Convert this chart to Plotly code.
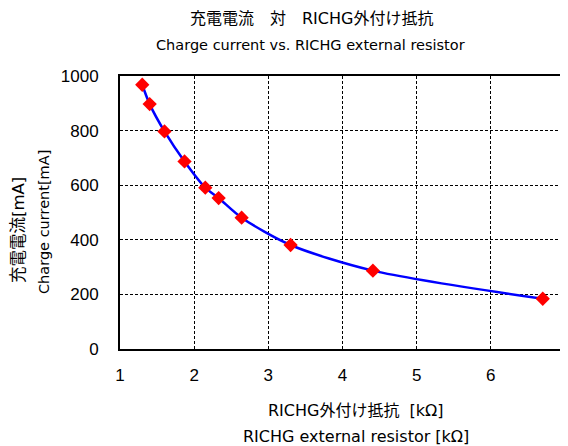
import plotly.graph_objects as go

resistor_kohm = [1.3, 1.4, 1.6, 1.87, 2.15, 2.33, 2.64, 3.3, 4.41, 6.7]
current_ma = [968, 897, 797, 687, 591, 553, 481, 381, 287, 184]

title_jp = "充電電流　対　RICHG外付け抵抗"
title_en = "Charge current vs. RICHG external resistor"
xtitle_jp = "RICHG外付け抵抗  [kΩ]"
xtitle_en = "RICHG external resistor [kΩ]"
ytitle_jp = "充電電流[mA]"
ytitle_en = "Charge current[mA]"

FONT = "DejaVu Sans, Noto Sans CJK JP, sans-serif"
TICKFONT = "Liberation Sans Narrow, Liberation Sans, sans-serif"
# page has an 8px body margin; figure is sized to fit the remaining window
OFF = 8
W, H = 568 - OFF, 446 - OFF
L, R, T, B = 120 - OFF, 3, 76 - OFF, 97

fig = go.Figure()
fig.add_trace(go.Scatter(
    x=resistor_kohm, y=current_ma, mode="lines+markers",
    line=dict(color="#0000FF", width=2.5, shape="spline", smoothing=0.8),
    marker=dict(symbol="diamond", color="#FF0000", size=11),
    showlegend=False,
))

axis_common = dict(showgrid=True, gridcolor="black", griddash="3px,2px",
                   gridwidth=1, showline=True, linecolor="black", linewidth=2,
                   mirror=True, zeroline=False, ticks="", automargin=False,
                   ticklabeloverflow="allow",
                   tickfont=dict(size=17, family=TICKFONT))

fig.update_layout(
    width=W, height=H,
    margin=dict(l=L, r=R, t=T, b=B),
    paper_bgcolor="white", plot_bgcolor="white",
    font=dict(family=FONT, color="black", size=14),
    xaxis=dict(range=[1, 7], dtick=1, ticklabelstandoff=10, **axis_common),
    yaxis=dict(range=[0, 1000], dtick=200, ticklabelstandoff=16, **axis_common),
)

# positions given in page pixels
ann = [
    dict(text=title_jp, x=311, y=18, size=16, angle=0),
    dict(text=title_en, x=310, y=45, size=14.5, angle=0),
    dict(text=xtitle_jp, x=356, y=410, size=16, angle=0),
    dict(text=xtitle_en, x=356, y=436, size=16, angle=0),
    dict(text=ytitle_jp, x=18, y=230, size=16.5, angle=-90),
    dict(text=ytitle_en, x=44, y=222, size=14.5, angle=-90),
]
pw, ph = W - L - R, H - T - B
for a in ann:
    fx, fy = a["x"] - OFF, a["y"] - OFF
    fig.add_annotation(
        text=a["text"], xref="paper", yref="paper",
        x=(fx - L) / pw, y=(H - fy - B) / ph,
        xanchor="center", yanchor="middle", showarrow=False,
        textangle=a["angle"], font=dict(size=a["size"], family=FONT, color="black"),
    )

fig.write_html("out.html")
